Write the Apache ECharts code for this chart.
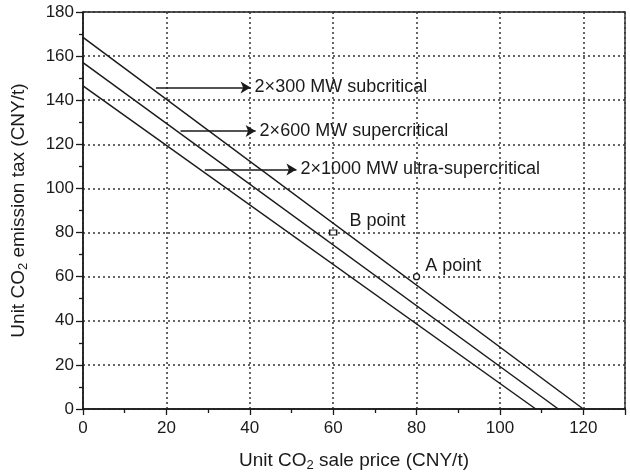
<!DOCTYPE html>
<html>
<head>
<meta charset="utf-8">
<script src="https://cdn.jsdelivr.net/npm/echarts@6/dist/echarts.min.js"></script>
<style>
  html, body { margin: 0; padding: 0; background: #fff; }
  #chart { width: 630px; height: 473px; }
</style>
</head>
<body>
<div id="chart"></div>
<script>
// Break-even lines: CO2 emission tax vs. CO2 sale price for three unit types
const unitNames = ['2×300 MW subcritical', '2×600 MW supercritical', '2×1000 MW ultra-supercritical'];
const taxAtZeroPrice = [168.5, 157, 146.5];   // CNY/t, where each line meets the y axis
const priceAtZeroTax = [120, 114, 108.6];     // CNY/t, where each line meets the x axis

// Annotation arrows (start price, end price, tax level) for each unit type
const arrowStartPrice = [17.5, 23.4, 29.2];
const arrowEndPrice = [40.2, 41.4, 51.2];
const arrowTax = [145.8, 126, 108.6];

// Marked operating points
const pointNames = ['A point', 'B point'];
const pointPrice = [80, 60];
const pointTax = [60, 80];
const pointSymbols = ['circle', 'rect'];

// Axis ticks
const xTicks = { min: 0, max: 130, interval: 20 };
const yTicks = { min: 0, max: 180, interval: 20 };

const FONT = '"Liberation Sans", Arial, sans-serif';
const INK = '#1a1a1a';

const chart = echarts.init(document.getElementById('chart'), null, { renderer: 'canvas' });

const lineSeries = unitNames.map((name, i) => ({
  name: name,
  type: 'line',
  data: [[0, taxAtZeroPrice[i]], [priceAtZeroTax[i], 0]],
  symbol: 'none',
  silent: true,
  lineStyle: { color: INK, width: 1.5 },
  z: 3,
  markLine: {
    silent: true,
    symbol: ['none', 'arrow'],
    symbolSize: [9, 10],
    lineStyle: { color: INK, width: 1.5, type: 'solid' },
    label: {
      show: true,
      position: 'end',
      distance: 4,
      formatter: name,
      color: INK,
      fontFamily: FONT,
      fontSize: 18
    },
    data: [[
      { coord: [arrowStartPrice[i], arrowTax[i]] },
      { coord: [arrowEndPrice[i], arrowTax[i]] }
    ]]
  }
}));

const pointSeries = pointNames.map((name, i) => ({
  name: name,
  type: 'scatter',
  data: [[pointPrice[i], pointTax[i]]],
  symbol: pointSymbols[i],
  symbolSize: pointSymbols[i] === 'rect' ? [7, 5] : 6,
  itemStyle: { color: '#fff', borderColor: INK, borderWidth: 1.3, opacity: 1 },
  z: 5,
  label: {
    show: true,
    formatter: name,
    position: 'right',
    offset: i === 0 ? [0, -11] : [7, -12],
    color: INK,
    opacity: 1,
    fontFamily: FONT,
    fontSize: 18
  }
}));

chart.setOption({
  animation: false,
  backgroundColor: '#fff',
  grid: {
    left: 83, right: 5, top: 12, bottom: 64,
    containLabel: false,
    outerBoundsMode: 'none',
    show: true, borderColor: INK, borderWidth: 1.3, backgroundColor: 'transparent'
  },
  xAxis: {
    type: 'value',
    min: xTicks.min, max: xTicks.max, interval: xTicks.interval,
    name: '{n|Unit CO}{s|2}{n| sale price (CNY/t)}',
    nameLocation: 'middle',
    nameGap: 40,
    nameTextStyle: {
      rich: {
        n: { fontFamily: FONT, fontSize: 19, color: INK },
        s: { fontFamily: FONT, fontSize: 13, color: INK, padding: [10, 0, 0, 0] }
      }
    },
    axisLine: { show: true, onZero: false, lineStyle: { color: INK, width: 1.6 } },
    axisTick: { show: true, length: 6, lineStyle: { color: INK, width: 1.3 } },
    minorTick: { show: true, splitNumber: 2, length: 4, lineStyle: { color: INK, width: 1.3 } },
    axisLabel: { margin: 11, color: INK, fontFamily: FONT, fontSize: 17, showMaxLabel: false },
    splitLine: { show: true, lineStyle: { color: '#333', width: 1.5, type: [2, 3] } }
  },
  yAxis: {
    type: 'value',
    min: yTicks.min, max: yTicks.max, interval: yTicks.interval,
    name: '{n|Unit CO}{s|2}{n| emission tax (CNY/t)}',
    nameLocation: 'middle',
    nameGap: 53,
    nameTextStyle: {
      rich: {
        n: { fontFamily: FONT, fontSize: 19, color: INK },
        s: { fontFamily: FONT, fontSize: 13, color: INK, padding: [10, 0, 0, 0] }
      }
    },
    axisLine: { show: true, onZero: false, lineStyle: { color: INK, width: 1.5 } },
    axisTick: { show: true, length: 7, lineStyle: { color: INK, width: 1.3 } },
    minorTick: { show: true, splitNumber: 2, length: 4, lineStyle: { color: INK, width: 1.3 } },
    axisLabel: { margin: 9, color: INK, fontFamily: FONT, fontSize: 17 },
    splitLine: { show: true, lineStyle: { color: '#333', width: 1.5, type: [2, 3] } }
  },
  series: lineSeries.concat(pointSeries)
});
</script>
</body>
</html>
